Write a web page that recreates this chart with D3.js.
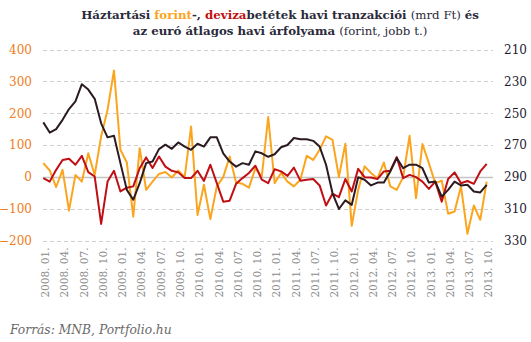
<!DOCTYPE html>
<html>
<head>
<meta charset="utf-8">
<script src="https://cdn.jsdelivr.net/npm/d3@7"></script>
<style>
  html, body { margin: 0; padding: 0; background: #fff; }
  svg { display: block; }
</style>
</head>
<body>
<svg id="chart" width="531" height="342"></svg>
<script>
// Monthly data, 2008. 01. – 2013. 10.
const months = [];
for (let y = 2008; y <= 2013; y++) {
  for (let m = 1; m <= 12; m++) {
    if (y === 2013 && m > 10) break;
    months.push(`${y}. ${String(m).padStart(2, "0")}.`);
  }
}

// Forint deposit transactions (bn HUF, left axis)
const forintDeposits = [
  43, 20, -32, 22, -106, 6, -15, 74, 6, 127, 211, 334,
  85, 45, -125, 90, -41, -15, 9, 15, -2, 20, -1, 158,
  -120, -25, -133, -30, -1, 64, -18, -22, -34, 27, 1, 188,
  -20, 12, -15, -30, -9, 66, 53, 85, 127, 116, -1, 104,
  -154, -41, 33, 12, -5, 45, -30, -41, -1, 129, -67, 103,
  43, -20, -12, -116, -109, -30, -179, -90, -135, -15
];

// Foreign-currency deposit transactions (bn HUF, left axis)
const fxDeposits = [
  -4, -15, 22, 53, 57, 38, 66, 15, 1, -148, -15, 19,
  -46, -34, -30, 27, 61, 28, 64, 32, 19, 14, -4, -4,
  19, -13, 38, -20, -78, -75, -22, -4, 12, 35, -9, -20,
  24, 17, 3, 29, -12, -9, -7, -27, -90, -53, -64, -7,
  -46, 25, -1, -2, -7, 17, 19, 62, -4, 6, -1, -15,
  -38, -15, -78, -7, 14, -20, -13, -22, 17, 41
];

// Monthly average EUR/HUF rate (right axis, inverted)
const eurHuf = [
  255.8, 262.2, 260.0, 254.2, 247.4, 242.6, 231.8, 235.2, 241.0, 256.4, 265.2, 264.2,
  281.4, 298.2, 304.4, 294.0, 281.4, 280.4, 272.6, 269.8, 272.4, 268.4, 271.0, 273.0,
  269.2, 271.0, 265.2, 265.2, 275.2, 280.4, 283.6, 281.4, 282.4, 274.0, 275.2, 277.4,
  275.8, 271.4, 270.0, 265.6, 266.4, 266.4, 267.4, 271.0, 282.4, 300.2, 310.2, 304.8,
  307.6, 290.2, 291.8, 295.4, 293.6, 293.6, 286.6, 278.2, 284.6, 282.4, 282.4, 284.6,
  293.6, 293.0, 302.4, 298.2, 293.0, 295.4, 295.0, 299.2, 299.8, 295.0
];

const leftTicks = [-200, -100, 0, 100, 200, 300, 400];
const rightTicks = [210, 230, 250, 270, 290, 310, 330];
const tickEvery = 3;

const svg = d3.select("#chart");
const plot = { left: 43, right: 493, top: 49.5, bottom: 240.5 };

const x = d3.scaleLinear().domain([0, months.length - 1]).range([43.3, 486.7]);
const yL = d3.scaleLinear().domain([-200, 400]).range([plot.bottom, plot.top]);
const yR = d3.scaleLinear().domain([330, 210]).range([plot.bottom, plot.top]);

const serif = "'DejaVu Serif', 'Liberation Serif', serif";

// Gridlines
svg.append("g")
  .selectAll("line")
  .data(leftTicks)
  .join("line")
  .attr("x1", plot.left).attr("x2", plot.right)
  .attr("y1", d => Math.round(yL(d)) + 0.5).attr("y2", d => Math.round(yL(d)) + 0.5)
  .attr("stroke", d => d === 0 ? "#c4c4c4" : "#cfcfcf")
  .attr("stroke-width", d => d === 0 ? 1.4 : 1)
  .attr("stroke-dasharray", d => d === 0 ? null : "4,3");

// Left axis
const leftAxis = svg.append("g")
  .attr("transform", "translate(32,0)")
  .call(d3.axisLeft(yL).tickValues(leftTicks).tickSize(0).tickPadding(0));
leftAxis.select(".domain").remove();
leftAxis.selectAll("text")
  .attr("fill", "#ee7d22")
  .attr("font-family", serif)
  .attr("font-size", 12)
  .attr("text-anchor", "end");

// Right axis
const rightAxis = svg.append("g")
  .attr("transform", "translate(504,0)")
  .call(d3.axisRight(yR).tickValues(rightTicks).tickSize(0).tickPadding(0));
rightAxis.select(".domain").remove();
rightAxis.selectAll("text")
  .attr("fill", "#1c1c30")
  .attr("font-family", serif)
  .attr("font-size", 12);

// Category axis (quarterly labels, rotated)
const qIdx = d3.range(0, months.length, tickEvery);
const bottomAxis = svg.append("g")
  .attr("transform", `translate(1.5,${plot.bottom + 7})`)
  .call(d3.axisBottom(x).tickValues(qIdx).tickFormat(i => months[i]).tickSize(0).tickPadding(0));
bottomAxis.select(".domain").remove();
bottomAxis.selectAll("text")
  .attr("fill", "#8a8a8a")
  .attr("font-family", serif)
  .attr("font-size", 10.5)
  .attr("text-anchor", "end")
  .attr("transform", "rotate(-90)")
  .attr("x", 0).attr("y", 0)
  .attr("dx", 0).attr("dy", "0.36em");

// Series lines
const lineL = data => d3.line().x((d, i) => x(i)).y(d => yL(d))(data);
const lineR = data => d3.line().x((d, i) => x(i)).y(d => yR(d))(data);

svg.append("path").attr("d", lineL(forintDeposits))
  .attr("fill", "none").attr("stroke", "#fba51e").attr("stroke-width", 2).attr("stroke-linejoin", "round");
svg.append("path").attr("d", lineL(fxDeposits))
  .attr("fill", "none").attr("stroke", "#c00f14").attr("stroke-width", 2).attr("stroke-linejoin", "round");
svg.append("path").attr("d", lineR(eurHuf))
  .attr("fill", "none").attr("stroke", "#2b1b20").attr("stroke-width", 2).attr("stroke-linejoin", "round");

// Title
const title = svg.append("text")
  .attr("x", 280).attr("y", 19)
  .attr("text-anchor", "middle")
  .attr("font-family", serif)
  .attr("font-size", 11.8)
  .attr("fill", "#2a2a3a");
title.append("tspan").attr("font-weight", "bold").text("Háztartási ");
title.append("tspan").attr("font-weight", "bold").attr("fill", "#fba51e").text("forint");
title.append("tspan").attr("font-weight", "bold").text("-, ");
title.append("tspan").attr("font-weight", "bold").attr("fill", "#c00f14").text("deviza");
title.append("tspan").attr("font-weight", "bold").text("betétek  havi tranzakciói ");
title.append("tspan").text("(mrd Ft) ");
title.append("tspan").attr("font-weight", "bold").text("és");

const title2 = svg.append("text")
  .attr("x", 280).attr("y", 35)
  .attr("text-anchor", "middle")
  .attr("font-family", serif)
  .attr("font-size", 11.8)
  .attr("fill", "#2a2a3a");
title2.append("tspan").attr("font-weight", "bold").text("az euró átlagos havi árfolyama ");
title2.append("tspan").text("(forint, jobb t.)");

// Source
svg.append("text")
  .attr("x", 10).attr("y", 334)
  .attr("font-family", serif)
  .attr("font-style", "italic")
  .attr("font-size", 12.3)
  .attr("fill", "#6a6a6a")
  .text("Forrás: MNB, Portfolio.hu");
</script>
</body>
</html>
